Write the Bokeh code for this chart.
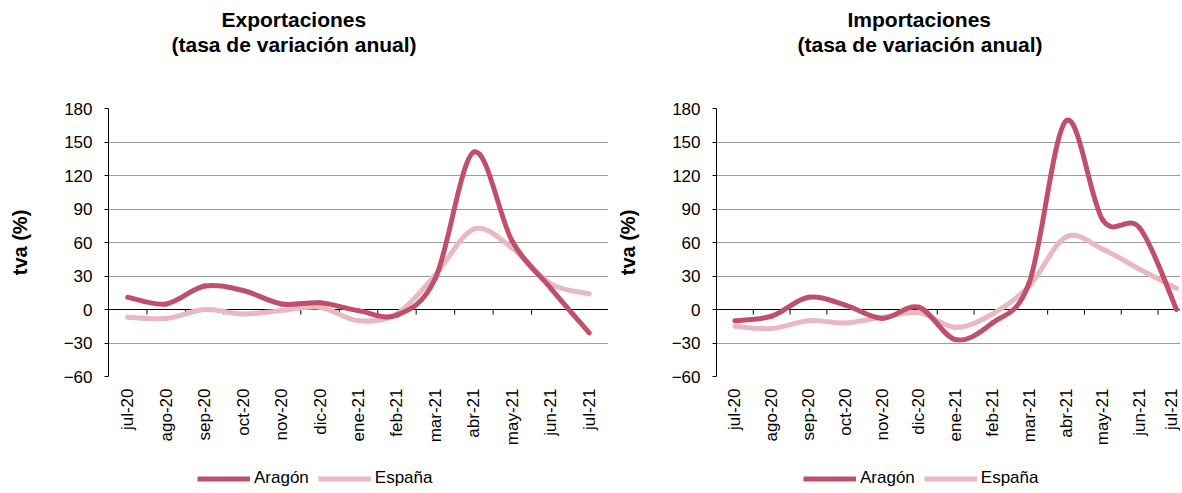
import math
from bokeh.plotting import figure
from bokeh.models import FixedTicker, Span, Title, Legend, LegendItem, Range1d
from bokeh.layouts import row, column
from bokeh.embed import file_html
from bokeh.resources import INLINE

# ---- data ----
months = ["jul-20", "ago-20", "sep-20", "oct-20", "nov-20", "dic-20", "ene-21",
          "feb-21", "mar-21", "abr-21", "may-21", "jun-21", "jul-21"]
y_ticks = [-60, -30, 0, 30, 60, 90, 120, 150, 180]
exp_aragon = [11, 5, 21, 17, 5, 6, -1, -5, 28, 141, 61, 19, -21]
exp_espana = [-7, -8, 0, -4, -1, 2, -10, -4, 31, 72, 55, 23, 14]
imp_aragon = [-10, -6, 11, 4, -8, 2, -27, -12, 24, 169, 80, 73, 0]
imp_espana = [-15, -17, -10, -12, -7, -3, -16, -4, 21, 65, 54, 36, 19]
series_names = ["Aragón", "España"]

AR = "#C0506A"
ES = "#E8B8C3"
FONT = "Liberation Sans"


def smooth(vals):
    n = len(vals)
    d = dict(x0=[], y0=[], x1=[], y1=[], cx0=[], cy0=[], cx1=[], cy1=[])
    for i in range(n - 1):
        a = i - 1 if i > 0 else i
        b = i + 2 if i + 2 < n else i + 1
        d["x0"].append(i); d["y0"].append(vals[i])
        d["x1"].append(i + 1); d["y1"].append(vals[i + 1])
        d["cx0"].append(i + (i + 1 - a) / 6.0)
        d["cy0"].append(vals[i] + (vals[i + 1] - vals[a]) / 6.0)
        d["cx1"].append(i + 1 - (b - i) / 6.0)
        d["cy1"].append(vals[i + 1] - (vals[b] - vals[i]) / 6.0)
    return d


def make(title, aragon, espana, width, x_end, off_main, off_sub):
    p = figure(width=width, height=466, x_range=Range1d(-0.5, x_end),
               y_range=Range1d(-60, 180), output_backend="svg",
               toolbar_location=None,
               min_border_left=108, min_border_right=0,
               min_border_top=108, min_border_bottom=90)
    p.title.visible = False
    p.outline_line_color = None
    p.xgrid.visible = False
    p.ygrid.ticker = FixedTicker(ticks=y_ticks)
    p.ygrid.grid_line_color = "#3a3a3a"
    p.ygrid.grid_line_dash = "1 1"
    p.ygrid.grid_line_width = 1

    ya = p.yaxis[0]
    ya.ticker = FixedTicker(ticks=y_ticks)
    ya.axis_line_color = "black"
    ya.major_tick_line_color = "black"
    ya.major_tick_in = 0
    ya.major_tick_out = 4
    ya.minor_tick_line_color = None
    ya.major_label_standoff = 12
    ya.major_label_text_font = FONT
    ya.major_label_text_font_size = "17px"
    ya.major_label_text_color = "black"
    ya.axis_label = "tva (%)"
    ya.axis_label_text_font = FONT
    ya.axis_label_text_font_size = "20px"
    ya.axis_label_text_font_style = "bold"
    ya.axis_label_text_color = "black"
    ya.axis_label_standoff = 30

    xa = p.xaxis[0]
    xa.ticker = FixedTicker(ticks=list(range(len(months))))
    xa.major_label_overrides = {i: m for i, m in enumerate(months)}
    xa.axis_line_color = None
    xa.major_tick_line_color = None
    xa.minor_tick_line_color = None
    xa.major_tick_in = 0
    xa.major_tick_out = 0
    xa.major_label_orientation = math.pi / 2
    xa.major_label_standoff = 12
    xa.major_label_text_font = FONT
    xa.major_label_text_font_size = "17px"
    xa.major_label_text_color = "black"

    zero = Span(location=0, dimension="width", line_color="black",
                line_width=1, level="underlay")
    p.add_layout(zero)
    bnd = [i + 0.5 for i in range(len(months))]
    p.segment(x0=bnd, x1=bnd, y0=[0] * len(bnd), y1=[-4.5] * len(bnd),
              line_color="black", line_width=1)

    p.bezier(line_color=ES, line_width=5, line_cap="round", **smooth(espana))
    p.bezier(line_color=AR, line_width=5, line_cap="round", **smooth(aragon))

    # spacer, then sub-title, then title (stacked upward from the frame)
    p.add_layout(Title(text=" ", text_font_size="1px", standoff=50), "above")
    p.add_layout(Title(text="(tasa de variación anual)", align="left",
                       offset=off_sub, text_font=FONT, text_font_size="21px",
                       text_font_style="bold", text_color="black",
                       standoff=0), "above")
    p.add_layout(Title(text=title, align="left", offset=off_main,
                       text_font=FONT, text_font_size="21px",
                       text_font_style="bold", text_color="black",
                       standoff=0), "above")
    return p


p1 = make("Exportaciones", exp_aragon, exp_espana, 608, 12.5, 113, 63)
p2 = make("Importaciones", imp_aragon, imp_espana, 572, 12.11, 131, 81)

# legend strip below both charts (legend-only renderers lie outside its range)
leg = figure(width=1180, height=24, x_range=Range1d(0, 1), y_range=Range1d(0, 1),
             output_backend="svg", toolbar_location=None,
             x_axis_type=None, y_axis_type=None,
             min_border_left=108, min_border_right=0,
             min_border_top=0, min_border_bottom=0)
leg.title.visible = False
leg.outline_line_color = None
r_a = leg.line(x=[5, 6], y=[5, 6], line_color=AR, line_width=5)
r_e = leg.line(x=[5, 6], y=[5, 6], line_color=ES, line_width=5)
for lx in (89, 695):
    lg = Legend(items=[LegendItem(label=series_names[0], renderers=[r_a]),
                       LegendItem(label=series_names[1], renderers=[r_e])],
                orientation="horizontal", location=(lx, 2),
                glyph_width=53, glyph_height=17, label_standoff=4,
                spacing=9, padding=0, margin=0,
                border_line_color=None, background_fill_alpha=0,
                label_text_font=FONT, label_text_font_size="17px",
                label_text_color="black", label_height=17)
    leg.add_layout(lg)

layout = column(row(p1, p2), leg)
open("out.html", "w").write(file_html(layout, INLINE))
